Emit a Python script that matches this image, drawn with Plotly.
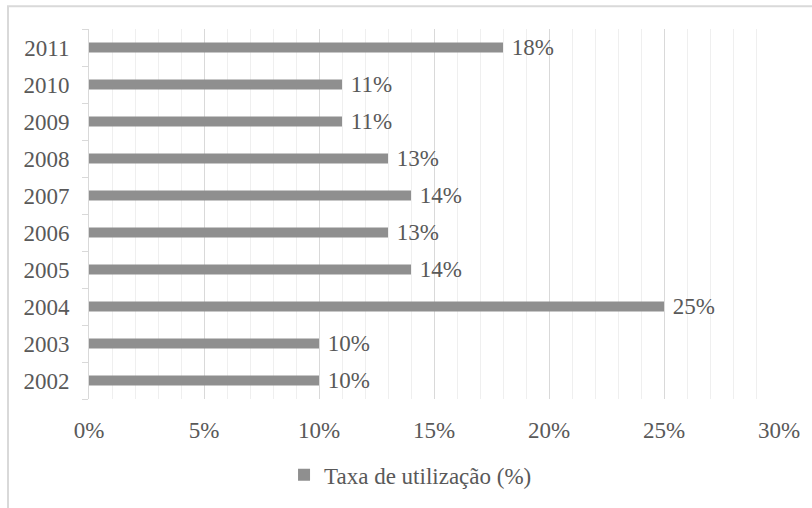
import plotly.graph_objects as go

years = ["2002", "2003", "2004", "2005", "2006", "2007", "2008", "2009", "2010", "2011"]
values = [10, 10, 25, 14, 13, 14, 13, 11, 11, 18]
series_name = "Taxa de utilização (%)"
x_ticks = [0, 5, 10, 15, 20, 25, 30]
x_tick_labels = [f"{v}%" for v in x_ticks]

font_family = "Liberation Serif"
text_color = "#595959"
bar_color = "#8f8f8f"
fs = 23

fig = go.Figure()
fig.add_trace(go.Bar(
    y=years, x=values, orientation="h", name=series_name,
    marker=dict(color=bar_color, line=dict(width=0)),
    width=0.27,
    text=[f" {v}%" for v in values], textposition="outside",
    constraintext="none",
    textfont=dict(family=font_family, size=fs, color=text_color),
    outsidetextfont=dict(family=font_family, size=fs, color=text_color),
    cliponaxis=False, showlegend=True,
))

fig.update_layout(
    width=812, height=508,
    margin=dict(l=89, r=33, t=29, b=103),
    paper_bgcolor="white", plot_bgcolor="white",
    font=dict(family=font_family, size=fs, color=text_color),
    uniformtext=dict(mode=False),
    showlegend=True,
    legend=dict(orientation="h", x=0.466, xanchor="center", y=-0.205, yanchor="middle",
                font=dict(family=font_family, size=fs, color=text_color),
                itemwidth=30),
    xaxis=dict(range=[0, 30], tickmode="array", tickvals=x_ticks, ticktext=x_tick_labels,
               showgrid=True, gridcolor="#d9d9d9", gridwidth=1,
               minor=dict(dtick=1, showgrid=True, gridcolor="#efefef", gridwidth=1),
               zeroline=False, showline=False, ticks="", ticklabelstandoff=15,
               tickfont=dict(family=font_family, size=fs, color=text_color)),
    yaxis=dict(type="category", categoryorder="array", categoryarray=years,
               showline=True, linecolor="#d9d9d9", linewidth=1,
               ticks="outside", tickson="boundaries", ticklen=6, tickcolor="#d9d9d9",
               showgrid=False, ticklabelstandoff=14,
               tickfont=dict(family=font_family, size=fs, color=text_color)),
    shapes=[dict(type="rect", xref="paper", yref="paper",
                 x0=-0.1174, y0=-0.35, x1=1.1, y1=1.0612,
                 line=dict(color="#d9d9d9", width=2), fillcolor="rgba(0,0,0,0)", layer="below")],
)

fig.write_html("out.html")
